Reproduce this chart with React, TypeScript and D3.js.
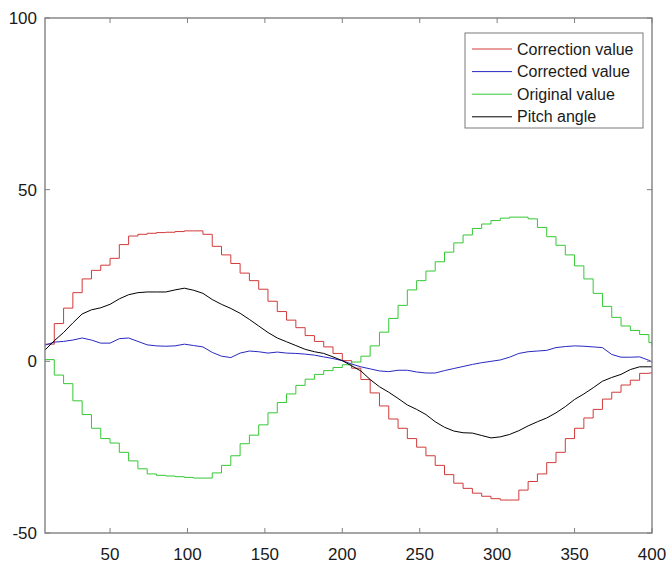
import React from "react";
import * as d3 from "d3";

const xs = [8,14,20,26,32,38,44,50,56,62,68,74,80,86,92,98,104,110,116,122,128,134,140,146,152,158,164,170,176,182,188,194,200,206,212,218,224,230,236,242,248,254,260,266,272,278,284,290,296,302,308,314,320,326,332,338,344,350,356,362,368,374,380,386,392,398,400];

const correctionValue = [5,11,15.5,20,24,26.5,28,30,34,36.5,37,37.3,37.5,37.6,37.8,38,38,37,33.5,31,28.5,25.7,23.5,21,17.5,14.5,12,9.8,7.5,5.8,4.2,2.3,0.2,-2,-5.3,-9.2,-13,-16.8,-19.5,-22.5,-25,-27.5,-30.3,-33,-35.5,-37,-38.4,-39.3,-40,-40.4,-40.4,-37.5,-35,-32.8,-29.5,-26.5,-22.5,-19.5,-16.5,-14,-11,-9,-6.9,-5.5,-3.5,-3.4,-3.4];

const correctedValue = [4.7,5.6,5.8,6.2,6.8,6.2,5.3,5.3,6.6,6.8,5.8,4.8,4.5,4.4,4.5,5,4.6,4.2,2.6,1.5,1.1,2.4,3,2.8,2.4,2.7,2.4,2.3,2.1,1.8,1.3,0.8,0.2,-0.8,-1.6,-2.2,-2.8,-3,-2.6,-2.6,-3.1,-3.4,-3.4,-2.7,-2.1,-1.5,-0.9,-0.4,0,0.4,1.2,2.3,2.8,3,3.2,4,4.3,4.5,4.4,4.2,4,2,1.2,1.2,1.3,0.3,-0.2];

const originalValue = [0.5,-4,-6.5,-11.5,-15.5,-19.5,-22.5,-23.8,-26.5,-29,-31.3,-32.8,-33.2,-33.4,-33.6,-33.8,-34,-34,-32.5,-30.3,-27.5,-24,-21.5,-18.5,-15,-12,-9.5,-7,-5.2,-3.8,-2.7,-1.8,-1,-0.2,1.5,4.5,8.5,12.5,16.3,20.8,23.5,26.3,29,31.8,34.5,36.8,38.7,40,41,41.7,42,42,41.5,39,36.3,33.8,31,27.8,24,19.8,16,12.8,10.3,9,7.8,5.5,4.5];

const pitchAngle = [3.3,6,8.4,11.2,13.8,15,15.6,16.6,18.2,19.4,20,20.2,20.2,20.2,20.8,21.3,20.7,19.8,18,16.6,15.4,14,12.2,10.3,8.4,6.8,5.7,4.6,3.5,2.8,2.3,1.3,0.2,-1.3,-2.8,-5.3,-7.4,-9,-10.8,-12.7,-14,-15.5,-17.6,-19.2,-20.3,-20.8,-20.9,-21.6,-22.3,-22,-21.3,-20.2,-18.8,-17.6,-16.5,-15,-13.2,-11.1,-9.5,-7.7,-5.8,-4.7,-3.8,-2.4,-1.6,-1.6,-1.6];

const xTicks = [50,100,150,200,250,300,350,400];
const yTicks = [-50,0,50,100];

const seriesNames = ["Correction value","Corrected value","Original value","Pitch angle"];
const seriesColors = ["#d23a3a","#2828c0","#34c834","#000000"];
const seriesData = [correctionValue, correctedValue, originalValue, pitchAngle];
const seriesStepped = [true, false, true, false];

export default function App() {
  const W = 667, H = 563;
  const left = 45, right = 652, top = 18, bottom = 533;
  const x = d3.scaleLinear().domain([8, 400]).range([left, right]);
  const y = d3.scaleLinear().domain([-50, 100]).range([bottom, top]);
  const font = "'Liberation Sans', Arial, sans-serif";
  const axisColor = "#808080";
  const tl = 5;

  const lines = seriesData.map((vals, k) =>
    d3.line<number>()
      .x((_, i) => x(xs[i]))
      .y((v) => y(v))
      .curve(seriesStepped[k] ? d3.curveStepAfter : d3.curveLinear)(vals) || ""
  );

  const legX = 465, legY = 33, legW = 178, legH = 95;

  return (
    <svg width={W} height={H} style={{ position: "absolute", left: 0, top: 0, background: "#fff" }}>
      <rect x={0} y={0} width={W} height={H} fill="#fff" />
      <defs>
        <clipPath id="plot">
          <rect x={left} y={top} width={right - left} height={bottom - top} />
        </clipPath>
      </defs>
      <g clipPath="url(#plot)">
        {lines.map((d, i) => (
          <path key={i} d={d} fill="none" stroke={seriesColors[i]} strokeWidth={1} />
        ))}
      </g>
      <rect x={left} y={top} width={right - left} height={bottom - top} fill="none" stroke={axisColor} strokeWidth={1.4} />
      {xTicks.map((t) => (
        <g key={"x" + t}>
          <line x1={x(t)} x2={x(t)} y1={bottom} y2={bottom - tl} stroke={axisColor} strokeWidth={1} />
          <line x1={x(t)} x2={x(t)} y1={top} y2={top + tl} stroke={axisColor} strokeWidth={1} />
          <text x={x(t)} y={560} textAnchor="middle" fontFamily={font} fontSize={17} fill="#1a1a1a">{t}</text>
        </g>
      ))}
      {yTicks.map((t) => (
        <g key={"y" + t}>
          <line x1={left} x2={left + tl} y1={y(t)} y2={y(t)} stroke={axisColor} strokeWidth={1} />
          <line x1={right} x2={right - tl} y1={y(t)} y2={y(t)} stroke={axisColor} strokeWidth={1} />
          <text x={37} y={y(t) + 6} textAnchor="end" fontFamily={font} fontSize={17} fill="#1a1a1a">{t}</text>
        </g>
      ))}
      <rect x={legX} y={legY} width={legW} height={legH} fill="#fff" stroke="#7a7a7a" strokeWidth={1} />
      {seriesNames.map((name, i) => {
        const ly = 49 + i * 22.6;
        return (
          <g key={name}>
            <line x1={472} x2={512} y1={ly} y2={ly} stroke={seriesColors[i]} strokeWidth={1} />
            <text x={517} y={ly + 5.5} fontFamily={font} fontSize={16} fill="#1a1a1a">{name}</text>
          </g>
        );
      })}
    </svg>
  );
}
